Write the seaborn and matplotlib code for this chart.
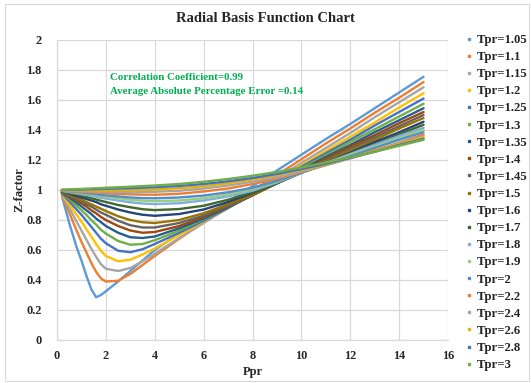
import matplotlib
matplotlib.use("Agg")
import matplotlib.pyplot as plt
from matplotlib.lines import Line2D
from matplotlib.patches import Rectangle
import numpy as np
import pandas as pd
import seaborn as sns

# ---------------- data ----------------
ppr = [0.2, 0.5, 0.8, 1.0, 1.2, 1.4, 1.6, 1.8, 2.0, 2.5, 3.0, 3.5, 4.0,
       5, 6, 7, 8, 9, 10, 11, 12, 13, 14, 15]

tpr_labels = ["Tpr=1.05", "Tpr=1.1", "Tpr=1.15", "Tpr=1.2", "Tpr=1.25", "Tpr=1.3",
              "Tpr=1.35", "Tpr=1.4", "Tpr=1.45", "Tpr=1.5", "Tpr=1.6", "Tpr=1.7",
              "Tpr=1.8", "Tpr=1.9", "Tpr=2", "Tpr=2.2", "Tpr=2.4", "Tpr=2.6",
              "Tpr=2.8", "Tpr=3"]

z_105 = [0.96, 0.78, 0.62, 0.53, 0.43, 0.34, 0.285, 0.30, 0.325, 0.39, 0.46, 0.53, 0.60,
         0.71, 0.815, 0.92, 1.025, 1.13, 1.235, 1.34, 1.44, 1.545, 1.65, 1.755]
z_110 = [0.965, 0.85, 0.73, 0.655, 0.585, 0.515, 0.455, 0.41, 0.39, 0.395, 0.44, 0.50, 0.56,
         0.675, 0.785, 0.89, 0.995, 1.10, 1.205, 1.31, 1.41, 1.515, 1.615, 1.72]
z_115 = [0.97, 0.88, 0.79, 0.73, 0.67, 0.61, 0.555, 0.505, 0.475, 0.46, 0.48, 0.525, 0.575,
         0.68, 0.78, 0.88, 0.98, 1.08, 1.18, 1.28, 1.38, 1.485, 1.585, 1.685]
z_120 = [0.975, 0.905, 0.835, 0.79, 0.74, 0.69, 0.64, 0.595, 0.56, 0.525, 0.535, 0.57, 0.61,
         0.70, 0.79, 0.88, 0.975, 1.07, 1.165, 1.26, 1.355, 1.45, 1.55, 1.645]
z_125 = [0.978, 0.925, 0.87, 0.835, 0.795, 0.755, 0.715, 0.675, 0.645, 0.595, 0.585, 0.605, 0.64,
         0.715, 0.795, 0.88, 0.97, 1.06, 1.155, 1.245, 1.335, 1.43, 1.52, 1.61]
z_130 = [0.98, 0.94, 0.895, 0.865, 0.835, 0.80, 0.77, 0.735, 0.71, 0.66, 0.635, 0.64, 0.665,
         0.73, 0.805, 0.885, 0.965, 1.055, 1.145, 1.23, 1.32, 1.405, 1.49, 1.575]
z_135 = [0.982, 0.95, 0.915, 0.89, 0.865, 0.84, 0.81, 0.785, 0.76, 0.715, 0.685, 0.68, 0.69,
         0.745, 0.81, 0.885, 0.965, 1.05, 1.135, 1.22, 1.30, 1.385, 1.465, 1.545]
z_140 = [0.984, 0.955, 0.93, 0.91, 0.89, 0.865, 0.845, 0.82, 0.80, 0.76, 0.73, 0.715, 0.72,
         0.76, 0.82, 0.89, 0.965, 1.045, 1.13, 1.21, 1.29, 1.365, 1.445, 1.52]
z_145 = [0.986, 0.962, 0.94, 0.925, 0.905, 0.89, 0.87, 0.85, 0.835, 0.795, 0.765, 0.75, 0.75,
         0.78, 0.83, 0.895, 0.965, 1.045, 1.125, 1.20, 1.275, 1.35, 1.425, 1.50]
z_150 = [0.988, 0.968, 0.95, 0.935, 0.92, 0.905, 0.89, 0.875, 0.86, 0.825, 0.80, 0.785, 0.78,
         0.80, 0.845, 0.905, 0.97, 1.045, 1.12, 1.19, 1.265, 1.335, 1.41, 1.48]
z_160 = [0.99, 0.975, 0.96, 0.95, 0.94, 0.93, 0.92, 0.905, 0.895, 0.87, 0.85, 0.835, 0.828,
         0.84, 0.87, 0.92, 0.98, 1.045, 1.115, 1.18, 1.25, 1.32, 1.385, 1.455]
z_170 = [0.992, 0.98, 0.97, 0.962, 0.955, 0.945, 0.937, 0.928, 0.92, 0.90, 0.885, 0.872, 0.866,
         0.873, 0.895, 0.935, 0.985, 1.045, 1.115, 1.175, 1.24, 1.305, 1.37, 1.435]
z_180 = [0.994, 0.985, 0.978, 0.972, 0.967, 0.961, 0.955, 0.948, 0.943, 0.93, 0.918, 0.91, 0.906,
         0.912, 0.93, 0.957, 0.995, 1.05, 1.115, 1.18, 1.24, 1.30, 1.36, 1.415]
z_190 = [0.995, 0.988, 0.982, 0.978, 0.974, 0.969, 0.965, 0.96, 0.955, 0.945, 0.935, 0.929, 0.926,
         0.93, 0.945, 0.97, 1.005, 1.055, 1.115, 1.175, 1.235, 1.29, 1.345, 1.40]
z_200 = [0.996, 0.99, 0.986, 0.983, 0.98, 0.976, 0.972, 0.968, 0.964, 0.957, 0.95, 0.946, 0.945,
         0.95, 0.963, 0.985, 1.015, 1.06, 1.115, 1.17, 1.225, 1.28, 1.335, 1.385]
z_220 = [0.997, 0.993, 0.99, 0.988, 0.986, 0.984, 0.982, 0.98, 0.978, 0.974, 0.971, 0.969, 0.968,
         0.975, 0.99, 1.01, 1.04, 1.075, 1.12, 1.165, 1.215, 1.265, 1.315, 1.37]
z_240 = [0.998, 0.995, 0.993, 0.992, 0.991, 0.99, 0.989, 0.988, 0.987, 0.986, 0.985, 0.986, 0.988,
         0.995, 1.01, 1.03, 1.055, 1.085, 1.125, 1.165, 1.21, 1.26, 1.31, 1.36]
z_260 = [1.0, 0.999, 0.998, 0.998, 0.998, 0.998, 0.998, 0.998, 0.998, 0.998, 0.999, 1.0, 1.003,
         1.012, 1.025, 1.045, 1.07, 1.10, 1.135, 1.17, 1.215, 1.26, 1.305, 1.35]
z_280 = [1.0, 1.001, 1.002, 1.003, 1.004, 1.005, 1.006, 1.007, 1.008, 1.01, 1.012, 1.015, 1.018,
         1.027, 1.04, 1.058, 1.08, 1.107, 1.14, 1.175, 1.215, 1.255, 1.30, 1.34]
z_300 = [1.002, 1.004, 1.006, 1.007, 1.009, 1.01, 1.012, 1.013, 1.015, 1.018, 1.022, 1.026, 1.03,
         1.04, 1.055, 1.073, 1.095, 1.12, 1.15, 1.183, 1.218, 1.255, 1.295, 1.335]

z_series = [z_105, z_110, z_115, z_120, z_125, z_130, z_135, z_140, z_145, z_150,
            z_160, z_170, z_180, z_190, z_200, z_220, z_240, z_260, z_280, z_300]

colors = ["#5B9BD5", "#ED7D31", "#A5A5A5", "#FFC000", "#4472C4", "#70AD47",
          "#255E91", "#9E480E", "#636363", "#997300", "#264478", "#43682B",
          "#7CAFDD", "#9CCB7E", "#4F8FD0", "#ED7D31", "#A5A5A5", "#E8B000",
          "#4472C4", "#70AD47"]

x_ticks = [0, 2, 4, 6, 8, 10, 12, 14, 16]
y_ticks = [0, 0.2, 0.4, 0.6, 0.8, 1.0, 1.2, 1.4, 1.6, 1.8, 2.0]
y_tick_labels = ["0", "0.2", "0.4", "0.6", "0.8", "1", "1.2", "1.4", "1.6", "1.8", "2"]

title = "Radial Basis Function Chart"
note_lines = ["Correlation Coefficient=0.99", "Average Absolute Percentage Error =0.14"]

# ---------------- build long table ----------------
rows = []
for lab, zs in zip(tpr_labels, z_series):
    for p, z in zip(ppr, zs):
        rows.append({"Ppr": p, "Z": z, "Tpr": lab})
df = pd.DataFrame(rows)

# ---------------- style ----------------
sns.set_style("white")
plt.rcParams["font.family"] = ["Liberation Serif", "DejaVu Serif"]
plt.rcParams["font.weight"] = "bold"

W, H = 531, 383
fig = plt.figure(figsize=(W / 100, H / 100), dpi=100)
ax = fig.add_axes([57 / W, 1 - 340 / H, (448 - 57) / W, 300 / H])

sns.lineplot(data=df, x="Ppr", y="Z", hue="Tpr", hue_order=tpr_labels,
             palette=colors, ax=ax, linewidth=1.7, legend=False,
             estimator=None, sort=False)

ax.set_xlim(0, 16)
ax.set_ylim(0, 2)
ax.set_xticks(x_ticks)
ax.set_xticklabels([str(t) for t in x_ticks], fontsize=8.8, fontweight="bold")
ax.set_yticks(y_ticks)
ax.set_yticklabels(y_tick_labels, fontsize=8.8, fontweight="bold")
ax.tick_params(axis="both", length=0)
ax.tick_params(axis="y", pad=11)
ax.tick_params(axis="x", pad=7)
ax.grid(True, color="#D9D9D9", linewidth=0.9)
ax.set_axisbelow(True)
for s in ["top", "right"]:
    ax.spines[s].set_visible(False)
for s in ["left", "bottom"]:
    ax.spines[s].set_color("#D9D9D9")
    ax.spines[s].set_linewidth(0.9)

ax.set_xlabel("Ppr", fontsize=9, fontweight="bold")
ax.set_ylabel("Z-factor", fontsize=9, fontweight="bold")
ax.xaxis.set_label_coords(0.5, -(366 - 340) / 300)
ax.yaxis.set_label_coords(-(57 - 25) / 391, 0.5)

fig.text(265 / W, 1 - 18 / H, title, ha="center", va="center",
         fontsize=10.5, fontweight="bold", color="#262626")

ax.text(2.17, 1.75, note_lines[0], fontsize=7.8, fontweight="bold",
        color="#00B050", va="center", ha="left")
ax.text(2.17, 1.655, note_lines[1], fontsize=7.8, fontweight="bold",
        color="#00B050", va="center", ha="left")

handles = [Line2D([0], [0], marker="s", linestyle="none", markersize=1.6,
                  markerfacecolor=c, markeredgecolor=c) for c in colors]
fig.legend(handles, tpr_labels, loc="upper left",
           bbox_to_anchor=(466 / W, 1 - 34 / H), frameon=False,
           prop={"family": "Liberation Serif", "weight": "bold", "size": 9.2},
           handlelength=0.5, handletextpad=0.35, labelspacing=0.4,
           borderaxespad=0, borderpad=0)

fig.patches.append(Rectangle((5 / W, 2 / H), 524 / W, 377 / H, transform=fig.transFigure,
                             fill=False, edgecolor="#D9D9D9", linewidth=0.8))

fig.savefig("out.png", dpi=100)
